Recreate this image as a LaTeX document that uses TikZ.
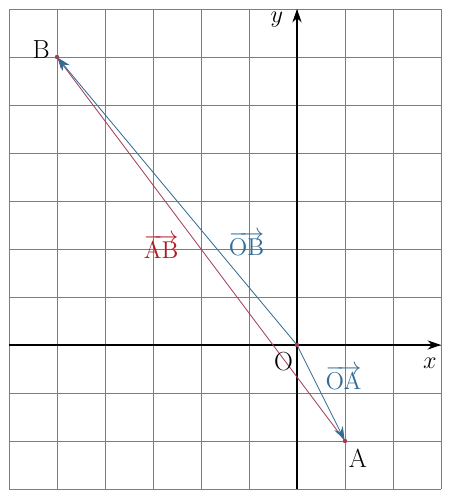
\documentclass[tikz,border=0pt]{standalone}
\usetikzlibrary{arrows.meta}
\definecolor{vblue}{RGB}{52,108,150}
\definecolor{vred}{RGB}{160,60,85}
\definecolor{lred}{RGB}{180,25,35}
\definecolor{gridgray}{RGB}{125,125,125}
\tikzset{
  gridline/.style={gridgray, line width=0.45pt},
  axis/.style={black, line width=0.6pt, -{Stealth[length=8pt,width=5.5pt]}},
  vecblue/.style={vblue, line width=0.5pt, -{Stealth[length=8pt,width=5.5pt]}, shorten >=0.5pt},
  vecred/.style={vred, line width=0.5pt, -{Stealth[length=7pt,width=5pt]}, shorten >=0.5pt},
  dotpt/.style={circle, fill=vred, inner sep=0pt, minimum size=2.6pt},
  lbl/.style={font=\fontsize{15.5}{17}\selectfont, inner sep=0pt}
}
\begin{document}
\begin{tikzpicture}
\useasboundingbox (-6.1875,-3.1667) rectangle (3.1875,7.1875);
\draw[gridline] (-6,-3) grid (3,7);
\draw[axis] (-6,0) -- (3,0);
\draw[axis] (0,-3) -- (0,7);
\coordinate (O) at (0,0);
\coordinate (A) at (1,-2);
\coordinate (B) at (-5,6);
\draw[vecred] (A) -- (B);
\draw[vecblue] (O) -- (A);
\draw[vecblue] (O) -- (B);
\node[dotpt] (dO) at (O) {};
\node[dotpt] (dA) at (A) {};
\node[dotpt] (dB) at (B) {};
\node[lbl] (lO) at (-0.28,-0.34) {O};
\node[lbl] (lA) at (1.27,-2.36) {A};
\node[lbl] (lB) at (-5.33,6.15) {B};
\node[lbl] (lx) at (2.77,-0.38) {$x$};
\node[lbl] (ly) at (-0.42,6.77) {$y$};
\node[lbl, text=vblue] (lOA) at (0.97,-0.68) {$\overrightarrow{\mathrm{OA}}$};
\node[lbl, text=vblue] (lOB) at (-1.05,2.12) {$\overrightarrow{\mathrm{OB}}$};
\node[lbl, text=lred] (lAB) at (-2.83,2.05) {$\overrightarrow{\mathrm{AB}}$};
\end{tikzpicture}
\end{document}
